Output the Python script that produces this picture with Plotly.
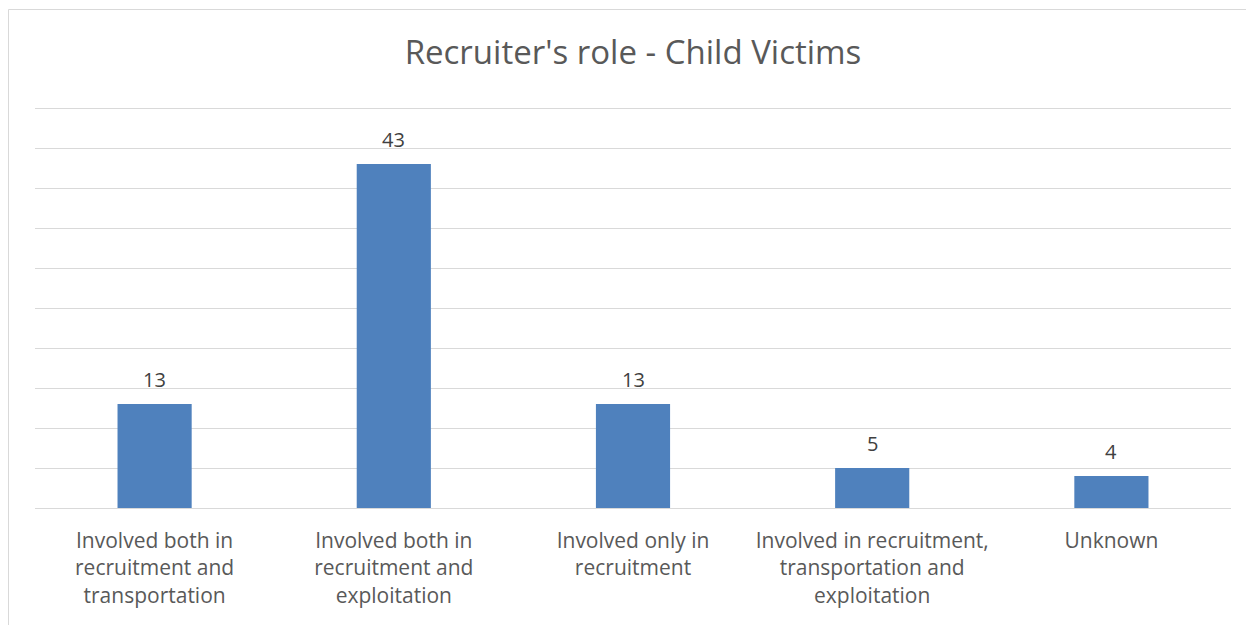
import plotly.graph_objects as go

categories = [
    "Involved both in<br>recruitment and<br>transportation",
    "Involved both in<br>recruitment and<br>exploitation",
    "Involved only in<br>recruitment",
    "Involved in recruitment,<br>transportation and<br>exploitation",
    "Unknown",
]
values = [13, 43, 13, 5, 4]
title_text = "Recruiter's role - Child Victims"

FONT = "Open Sans"

fig = go.Figure(
    go.Bar(
        x=categories,
        y=values,
        width=0.31,
        marker=dict(color="#4F81BD", line=dict(width=0)),
        hoverinfo="x+y",
    )
)

# page has an 8px body margin; figure is sized to fit the window exactly
W, H = 1246, 617
YMAX = 50.5
L = 27
T = 100 - int(round((YMAX - 50) * 8))
R = W - (1231 - 8)
B = H - (508 - 8)
pw, ph = W - L - R, H - T - B
bx = (0.5 - L) / pw
by = (H - B - 1.5) / ph

annotations = [
    dict(x=c, y=v, xref="x", yref="y", text=str(v), showarrow=False,
         yanchor="bottom", yshift=9,
         font=dict(family=FONT, size=20, color="#404040"))
    for c, v in zip(categories, values)
]

fig.update_layout(
    width=W,
    height=H,
    margin=dict(l=L, r=R, t=T, b=B),
    paper_bgcolor="white",
    plot_bgcolor="white",
    showlegend=False,
    title=dict(
        text=title_text,
        x=0.5,
        xref="paper",
        xanchor="center",
        y=(H - 44) / H,
        yanchor="middle",
        font=dict(family=FONT, size=33, color="#595959"),
    ),
    xaxis=dict(
        type="category",
        showgrid=False,
        showline=False,
        ticks="",
        tickfont=dict(family=FONT, size=21, color="#595959"),
        ticklabelstandoff=18,
    ),
    yaxis=dict(
        range=[0, YMAX],
        tick0=0,
        dtick=5,
        showticklabels=False,
        showgrid=True,
        gridcolor="#D9D9D9",
        gridwidth=1,
        zeroline=True,
        zerolinecolor="#D9D9D9",
        zerolinewidth=1,
        showline=False,
        ticks="",
    ),
    annotations=annotations,
    shapes=[
        dict(type="line", xref="paper", yref="paper", x0=bx, x1=bx, y0=-0.5, y1=by,
             line=dict(color="#D9D9D9", width=1)),
        dict(type="line", xref="paper", yref="paper", x0=bx, x1=1.1, y0=by, y1=by,
             line=dict(color="#D9D9D9", width=1)),
    ],
)

fig.write_html("out.html")
